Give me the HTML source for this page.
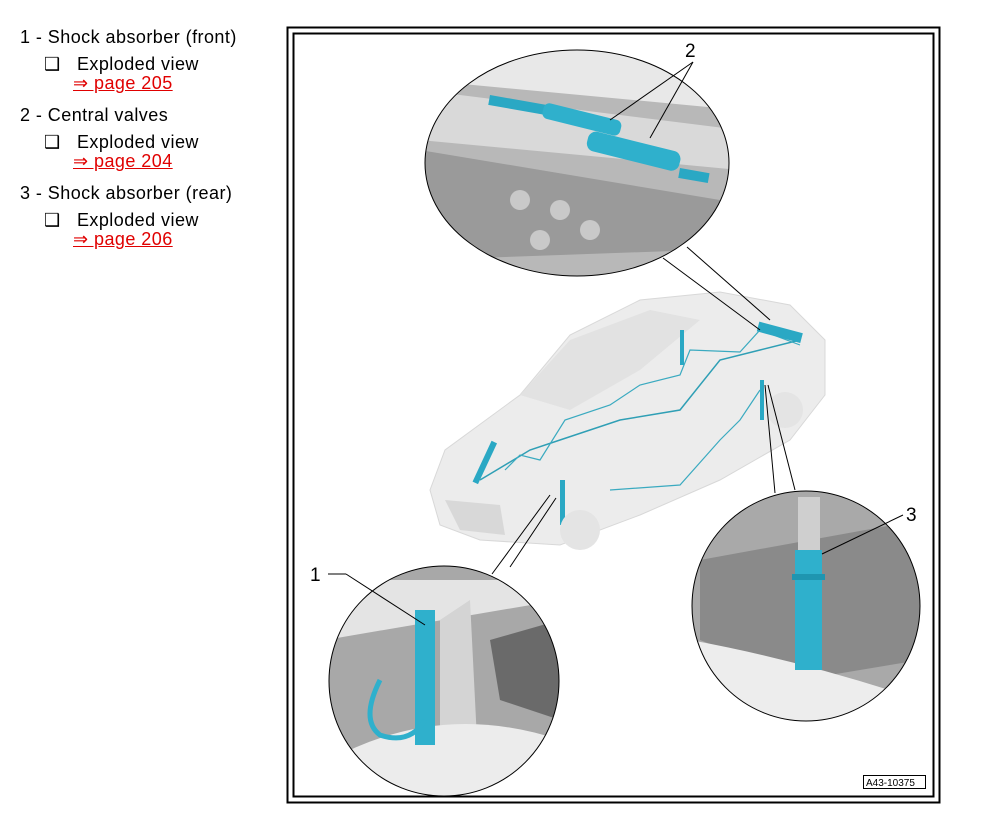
<!DOCTYPE html>
<html><head><style>
body{margin:0;width:995px;height:837px;background:#fff;position:relative;font-family:"Liberation Sans",Arial,sans-serif;overflow:hidden}
.t{position:absolute;font-size:18px;letter-spacing:0.45px;color:#000;white-space:nowrap}
.l{position:absolute;font-size:18px;letter-spacing:0.45px;color:#e00000;text-decoration:underline;white-space:nowrap}
</style></head><body>
<div class="t" style="left:20px;top:27px">1 - Shock absorber (front)</div>
<div class="t" style="left:44px;top:54px">❑&nbsp;&nbsp;&nbsp;Exploded view</div>
<div class="l" style="left:73px;top:73px">⇒ page 205</div>
<div class="t" style="left:20px;top:105px">2 - Central valves</div>
<div class="t" style="left:44px;top:132px">❑&nbsp;&nbsp;&nbsp;Exploded view</div>
<div class="l" style="left:73px;top:151px">⇒ page 204</div>
<div class="t" style="left:20px;top:183px">3 - Shock absorber (rear)</div>
<div class="t" style="left:44px;top:210px">❑&nbsp;&nbsp;&nbsp;Exploded view</div>
<div class="l" style="left:73px;top:229px">⇒ page 206</div>

<svg width="995" height="837" style="position:absolute;left:0;top:0">
<defs>
<clipPath id="c1"><ellipse cx="577" cy="163" rx="152" ry="113"/></clipPath>
<clipPath id="c2"><ellipse cx="444" cy="681" rx="115" ry="115"/></clipPath>
<clipPath id="c3"><ellipse cx="806" cy="606" rx="114" ry="115"/></clipPath>
</defs>
<rect x="287.5" y="27.5" width="652" height="775" fill="none" stroke="#000" stroke-width="2"/>
<rect x="293.5" y="33.5" width="640" height="763" fill="none" stroke="#000" stroke-width="2"/>

<path d="M430 490 L445 450 L520 395 L570 335 L640 300 L720 292 L790 305 L825 340 L825 395 L790 440 L720 480 L640 515 L560 545 L480 540 L440 525 Z" fill="#ececec" stroke="#d8d8d8"/>
<path d="M520 395 L570 340 L650 310 L700 320 L640 370 L570 410 Z" fill="#e2e2e2"/>
<path d="M445 500 L500 505 L505 535 L460 530 Z" fill="#d8d8d8"/>
<path d="M480 480 L530 450 L560 440 L620 420 L680 410 L720 360 L760 350 L800 340" fill="none" stroke="#2f9fb5" stroke-width="1.5"/>
<path d="M505 470 L520 455 L540 460 L565 420 L610 405 L640 385 L680 375 L690 350 L740 352 L760 330 L800 345" fill="none" stroke="#3aaac0" stroke-width="1.2"/>
<path d="M610 490 L680 485 L720 440 L740 420 L760 390" fill="none" stroke="#3aaac0" stroke-width="1.2"/>
<rect x="482" y="440" width="6" height="45" fill="#2aa8c4" transform="rotate(25 485 462)"/>
<rect x="560" y="480" width="5" height="45" fill="#2aa8c4"/>
<rect x="680" y="330" width="4" height="35" fill="#2aa8c4"/>
<rect x="760" y="380" width="4" height="40" fill="#2aa8c4"/>
<rect x="758" y="322" width="45" height="10" fill="#2aa8c4" transform="rotate(15 760 327)"/>
<circle cx="580" cy="530" r="20" fill="#e4e4e4"/>
<circle cx="785" cy="410" r="18" fill="#e4e4e4"/>

<g stroke="#000" stroke-width="1" fill="none">
<line x1="663" y1="258" x2="760" y2="330"/>
<line x1="687" y1="247" x2="770" y2="320"/>
<line x1="492" y1="574" x2="550" y2="495"/>
<line x1="510" y1="567" x2="556" y2="498"/>
<line x1="775" y1="493" x2="765" y2="385"/>
<line x1="795" y1="490" x2="768" y2="385"/>
</g>

<g clip-path="url(#c1)">
<rect x="420" y="50" width="320" height="230" fill="#b8b8b8"/>
<path d="M420 50 L740 50 L740 110 L420 80 Z" fill="#e8e8e8"/>
<path d="M420 90 L740 130 L740 170 L420 140 Z" fill="#d9d9d9"/>
<path d="M420 150 L720 200 L700 250 L420 260 Z" fill="#9a9a9a"/>
<circle cx="520" cy="200" r="10" fill="#c9c9c9"/><circle cx="560" cy="210" r="10" fill="#c9c9c9"/><circle cx="590" cy="230" r="10" fill="#c9c9c9"/><circle cx="540" cy="240" r="10" fill="#c9c9c9"/>
<rect x="490" y="95" width="80" height="10" fill="#2aa8c4" transform="rotate(10 490 95)"/>
<rect x="545" y="102" width="80" height="16" rx="6" fill="#2fb0cc" transform="rotate(14 545 102)"/>
<rect x="590" y="130" width="95" height="20" rx="8" fill="#2fb0cc" transform="rotate(14 590 130)"/>
<rect x="680" y="168" width="30" height="10" fill="#2aa8c4" transform="rotate(10 680 168)"/>
</g>
<ellipse cx="577" cy="163" rx="152" ry="113" fill="none" stroke="#000" stroke-width="1"/>
<text x="685" y="57" font-size="19" font-family="Liberation Sans,Arial,sans-serif">2</text>
<line x1="693" y1="62" x2="610" y2="120" stroke="#000"/>
<line x1="693" y1="62" x2="650" y2="138" stroke="#000"/>

<g clip-path="url(#c2)">
<rect x="325" y="565" width="240" height="235" fill="#a8a8a8"/>
<path d="M325 580 L560 580 L560 600 L325 640 Z" fill="#e4e4e4"/>
<path d="M440 620 L470 600 L480 800 L440 800 Z" fill="#d4d4d4"/>
<path d="M330 760 Q440 700 560 740 L560 800 L330 800 Z" fill="#ececec"/>
<path d="M490 640 L560 620 L560 720 L500 700 Z" fill="#6a6a6a"/>
<rect x="415" y="610" width="20" height="135" fill="#2fb0cc"/>
<path d="M380 680 Q360 720 380 735 Q410 745 425 720" fill="none" stroke="#2fb0cc" stroke-width="5"/>
</g>
<ellipse cx="444" cy="681" rx="115" ry="115" fill="none" stroke="#000" stroke-width="1"/>
<text x="310" y="581" font-size="19" font-family="Liberation Sans,Arial,sans-serif">1</text>
<line x1="328" y1="574" x2="346" y2="574" stroke="#000"/>
<line x1="346" y1="574" x2="425" y2="625" stroke="#000"/>

<g clip-path="url(#c3)">
<rect x="690" y="490" width="232" height="235" fill="#a9a9a9"/>
<path d="M700 560 L920 520 L920 660 L800 680 L700 640 Z" fill="#8a8a8a"/>
<path d="M690 640 Q800 660 920 700 L920 725 L690 725 Z" fill="#ededed"/>
<rect x="798" y="497" width="22" height="55" fill="#cfcfcf"/>
<rect x="795" y="550" width="27" height="120" fill="#2fb0cc"/>
<rect x="792" y="574" width="33" height="6" fill="#1f95b0"/>
</g>
<ellipse cx="806" cy="606" rx="114" ry="115" fill="none" stroke="#000" stroke-width="1"/>
<text x="906" y="521" font-size="19" font-family="Liberation Sans,Arial,sans-serif">3</text>
<line x1="903" y1="515" x2="822" y2="554" stroke="#000"/>

<rect x="863.5" y="775.5" width="62" height="13" fill="#fff" stroke="#000"/>
<text x="866" y="786" font-size="10" font-family="Liberation Sans,Arial,sans-serif">A43-10375</text>
</svg>
</body></html>
